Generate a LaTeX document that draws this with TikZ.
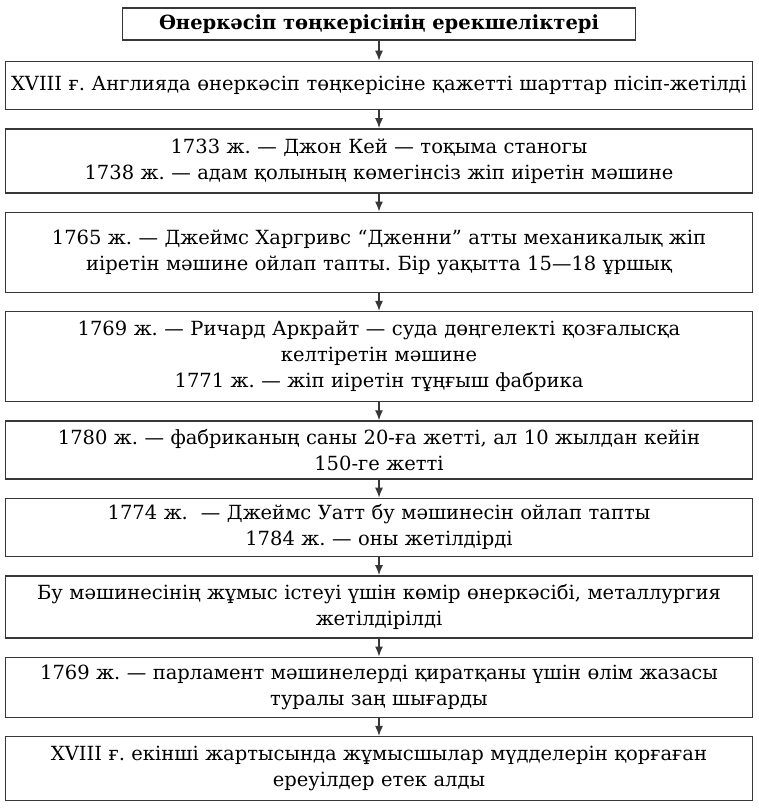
\documentclass[tikz,border=0pt]{standalone}
\usepackage{fontspec}
\setmainfont{DejaVu Serif}
\usepackage{tikz}
\usetikzlibrary{arrows.meta, positioning}
\frenchspacing
\definecolor{boxline}{RGB}{55,55,55}
\tikzstyle{block} = [rectangle, draw=boxline, line width=1.4pt, text width=737pt, align=center, inner xsep=5pt, inner ysep=6pt, font=\fontsize{19.5}{26}\selectfont]
\tikzstyle{head} = [rectangle, draw=boxline, line width=1.4pt, minimum width=513pt, minimum height=32pt, font=\fontsize{19.5}{22}\selectfont\bfseries]
\tikzstyle{arrow} = [-{Latex[length=10pt, width=8pt]}, line width=1.3pt, draw=boxline]

\begin{document}
\begin{tikzpicture}[x=1pt, y=1pt, node distance=18pt]
  \useasboundingbox (0,0) rectangle (758,-811);
  \node[head] (head) at (379,-24) {Өнеркәсіп төңкерісінің ерекшеліктері};
  \node[block, minimum height=48pt, below=20pt of head] (cond) {XVIII ғ. Англияда өнеркәсіп төңкерісіне қажетті шарттар пісіп-жетілді};
  \node[block, minimum height=64pt, below=of cond] (kay) {1733 ж. — Джон Кей — тоқыма станогы\\1738 ж. — адам қолының көмегінсіз жіп иіретін мәшине};
  \node[block, minimum height=80pt, below=of kay] (jenny) {1765 ж. — Джеймс Харгривс “Дженни” атты механикалық жіп\\иіретін мәшине ойлап тапты. Бір уақытта 15—18 ұршық\\[8pt]};
  \node[block, minimum height=90pt, below=of jenny] (ark) {1769 ж. — Ричард Аркрайт — суда дөңгелекті қозғалысқа\\келтіретін мәшине\\1771 ж. — жіп иіретін тұңғыш фабрика};
  \node[block, minimum height=58pt, below=of ark] (fab) {1780 ж. — фабриканың саны 20-ға жетті, ал 10 жылдан кейін\\150-ге жетті};
  \node[block, minimum height=58pt, below=of fab] (watt) {1774 ж.~ — Джеймс Уатт бу мәшинесін ойлап тапты\\1784 ж. — оны жетілдірді};
  \node[block, minimum height=62pt, below=of watt] (coal) {Бу мәшинесінің жұмыс істеуі үшін көмір өнеркәсібі, металлургия\\жетілдірілді};
  \node[block, minimum height=60pt, below=of coal] (law) {1769 ж. — парламент мәшинелерді қиратқаны үшін өлім жазасы\\туралы заң шығарды};
  \node[block, minimum height=64pt, below=of law] (strike) {XVIII ғ. екінші жартысында жұмысшылар мүдделерін қорғаған\\ереуілдер етек алды};

  \draw[arrow] (head) -- (cond);
  \draw[arrow] (cond) -- (kay);
  \draw[arrow] (kay) -- (jenny);
  \draw[arrow] (jenny) -- (ark);
  \draw[arrow] (ark) -- (fab);
  \draw[arrow] (fab) -- (watt);
  \draw[arrow] (watt) -- (coal);
  \draw[arrow] (coal) -- (law);
  \draw[arrow] (law) -- (strike);
\end{tikzpicture}
\end{document}
